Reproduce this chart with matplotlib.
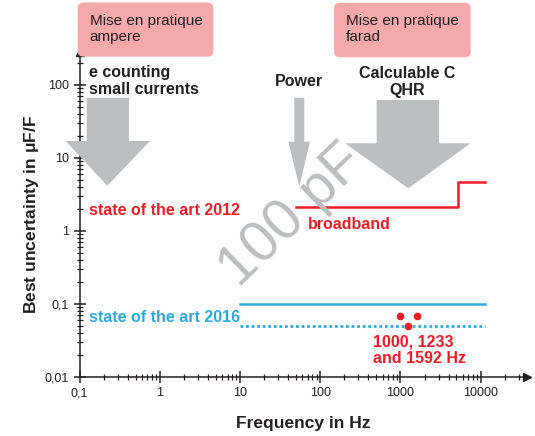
import matplotlib
matplotlib.use("Agg")
import matplotlib.pyplot as plt
from matplotlib.patches import Polygon, FancyBboxPatch
from matplotlib.ticker import LogLocator, FixedLocator, FixedFormatter, NullFormatter

plt.rcParams['font.family'] = ['Liberation Sans', 'DejaVu Sans']
plt.rcParams['mathtext.fontset'] = 'custom'
plt.rcParams['mathtext.rm'] = 'Liberation Sans'

# data
freq_2012 = [50, 5300, 5300, 11500]
unc_2012 = [2.1, 2.1, 4.7, 4.7]
freq_2016 = [10, 11500]
unc_2016 = [0.1, 0.1]
unc_2016_dot = [0.05, 0.05]
dot_freqs = [1000, 1233, 1592]
dot_unc = [0.068, 0.05, 0.068]
xticks = [0.1, 1, 10, 100, 1000, 10000]
xticklabels = ['0,1', '1', '10', '100', '1000', '10000']
yticks = [0.01, 0.1, 1, 10, 100]
yticklabels = ['0,01', '0,1', '1', '10', '100']

RED = '#ed1c24'
BLUE = '#29aae1'
GRAY = '#bcbec0'
DARK = '#231f20'
PINK = '#f5a9ab'

W, H = 535, 436
fig = plt.figure(figsize=(W / 100, H / 100), dpi=100)
ax = fig.add_axes([79.6 / W, (H - 377) / H, 447.1 / W, 325.3 / H])
ax.set_xscale('log')
ax.set_yscale('log')
ax.set_xlim(0.1, 10 ** 4.575)
ax.set_ylim(0.01, 10 ** 2.456)


def px(x, y):
    return (x / W, 1 - y / H)


# lines
ax.plot(freq_2012, unc_2012, color=RED, lw=1.8, zorder=3)
ax.plot(freq_2016, unc_2016, color=BLUE, lw=1.8, zorder=3)
ax.plot(freq_2016, unc_2016_dot, color=BLUE, lw=2, ls=(0, (1, 1)), zorder=3)
ax.plot(dot_freqs, dot_unc, 'o', color=RED, ms=4.5, zorder=3)

# axes styling
for s in ['top', 'right']:
    ax.spines[s].set_visible(False)
for s in ['left', 'bottom']:
    ax.spines[s].set_linewidth(1.1)
    ax.spines[s].set_color(DARK)
ax.plot(1, 0, '>', color=DARK, ms=6, transform=ax.transAxes, clip_on=False, zorder=5)
ax.plot(0, 1, '^', color=DARK, ms=6, transform=ax.transAxes, clip_on=False, zorder=5)

ax.xaxis.set_major_locator(FixedLocator(xticks))
ax.xaxis.set_major_formatter(FixedFormatter(xticklabels))
ax.yaxis.set_major_locator(FixedLocator(yticks))
ax.yaxis.set_major_formatter(FixedFormatter(yticklabels))
ax.xaxis.set_minor_locator(LogLocator(base=10, subs=range(2, 10), numticks=20))
ax.yaxis.set_minor_locator(LogLocator(base=10, subs=range(2, 10), numticks=20))
ax.xaxis.set_minor_formatter(NullFormatter())
ax.yaxis.set_minor_formatter(NullFormatter())
ax.tick_params(which='major', direction='inout', length=9, width=1.1, color=DARK,
               labelsize=9, labelcolor=DARK, pad=3)
ax.tick_params(which='minor', direction='inout', length=5, width=0.9, color=DARK)
ax.set_facecolor('none')

ax.set_xlabel('Frequency in Hz', fontsize=12.5, fontweight='bold', color=DARK, labelpad=12)
ax.set_ylabel('Best uncertainty in $\\mathregular{\\mu}$F/F', fontsize=12.5,
              fontweight='bold', color=DARK, labelpad=3)

# gray arrows (figure pixel outlines)
arrows = [
    (86.7, 129, 97.7, 141, 65.7, 150, 107.3, 185.7),
    (294.3, 304.3, 97.7, 141.7, 288.3, 310, 299.3, 186.7),
    (376.7, 439, 100, 143.3, 345, 470.7, 408.3, 188.3),
]
for x0, x1, top, hy, hx0, hx1, tx, ty in arrows:
    pts = [px(x0, top), px(x1, top), px(x1, hy), px(hx1, hy), px(tx, ty),
           px(hx0, hy), px(x0, hy)]
    fig.patches.append(Polygon(pts, closed=True, transform=fig.transFigure,
                               facecolor=GRAY, edgecolor='none', zorder=0))

# pink boxes
for (bx0, by0, bx1, by1, txt) in [(77.7, 2.5, 213.3, 56.7, 'Mise en pratique\nampere'),
                                  (334, 2.7, 470.7, 57.3, 'Mise en pratique\nfarad')]:
    x, y = px(bx0, by1)
    fig.patches.append(FancyBboxPatch((x, y), (bx1 - bx0) / W, (by1 - by0) / H,
                                      boxstyle='round,pad=0,rounding_size=0.012',
                                      transform=fig.transFigure, facecolor=PINK,
                                      edgecolor='none', zorder=0))
    fig.text(*px(bx0 + 12, 29), txt, fontsize=11, color=DARK, va='center', ha='left',
             linespacing=1.15)

# labels
fig.text(*px(89, 81), 'e counting\nsmall currents', fontsize=11.5, fontweight='bold',
         color=DARK, va='center', ha='left', linespacing=1.1)
fig.text(*px(299, 81), 'Power', fontsize=11.5, fontweight='bold', color=DARK,
         va='center', ha='center')
fig.text(*px(407, 82), 'Calculable C\nQHR', fontsize=11.5, fontweight='bold',
         color=DARK, va='center', ha='center', linespacing=1.1)
fig.text(*px(89, 210), 'state of the art 2012', fontsize=11.5, fontweight='bold',
         color=RED, va='center', ha='left')
fig.text(*px(308, 224), 'broadband', fontsize=11.5, fontweight='bold',
         color=RED, va='center', ha='left')
fig.text(*px(89, 317), 'state of the art 2016', fontsize=11.5, fontweight='bold',
         color=BLUE, va='center', ha='left')
fig.text(*px(373, 350), '1000, 1233\nand 1592 Hz', fontsize=11.5, fontweight='bold',
         color=RED, va='center', ha='left', linespacing=1.1)
fig.text(*px(292, 216), '100 pF', fontsize=41, color=GRAY, rotation=44,
         va='center', ha='center', zorder=0)

fig.savefig('out.png', dpi=100)
